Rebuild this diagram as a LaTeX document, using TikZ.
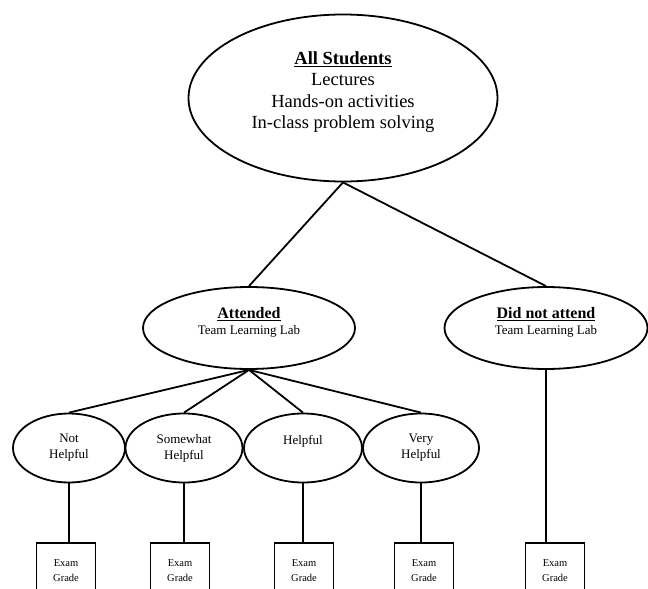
\documentclass[tikz,border=0pt]{standalone}
\usepackage{fontspec}
\setmainfont{Liberation Serif}
\usetikzlibrary{shapes.geometric}

\begin{document}
\begin{tikzpicture}[x=1pt,y=-1pt,line width=1.8pt,
  oval/.style={draw,ellipse,inner sep=0pt,align=center},
  small/.style={font=\fontsize{13}{16}\selectfont},
  gradebox/.style={draw,anchor=north,minimum width=59,minimum height=56,
    align=center,font=\fontsize{10.5}{15}\selectfont}]
\useasboundingbox (0,0) rectangle (648,589);

% top
\node[oval,minimum width=309,minimum height=167] (all) at (343,98) {};
\node[align=center,font=\fontsize{18.5}{21.5}\selectfont] (alltext) at (343,92)
  {\underline{\textbf{All Students}}\\Lectures\\Hands-on activities\\In-class problem solving};

% second row
\node[oval,minimum width=212,minimum height=82] (att) at (249,328) {};
\node[oval,minimum width=203,minimum height=82] (dna) at (546,328) {};
\node[align=center,small] (atttext) at (249,322)
  {{\fontsize{16}{16}\selectfont\underline{\textbf{Attended}}}\\Team Learning Lab};
\node[align=center,small] (dnatext) at (546,322)
  {{\fontsize{16}{16}\selectfont\underline{\textbf{Did not attend}}}\\Team Learning Lab};

\draw (all.south) -- (att.north);
\draw (all.south) -- (dna.north);

% ratings
\foreach \x/\w/\n/\t in {69/112/h1/{Not\\Helpful},184/117/h2/{Somewhat\\Helpful},
                      303/118/h3/{Helpful\\\mbox{}},421/116/h4/{Very\\Helpful}}
  \node[oval,small,minimum width=\w,minimum height=69] (\n) at (\x,448) {\t};

% exam grades
\foreach \x/\n in {66/g1,180/g2,304/g3,424/g4,555/g5}
  \node[gradebox] (\n) at (\x,542) {Exam\\Grade};

\foreach \n in {h1,h2,h3,h4}
  \draw (att.south) -- (\n.north);
\foreach \a/\b in {h1/g1,h2/g2,h3/g3,h4/g4,dna/g5}
  \draw (\a.south) -- (\a.south |- \b.north);
\end{tikzpicture}
\end{document}
